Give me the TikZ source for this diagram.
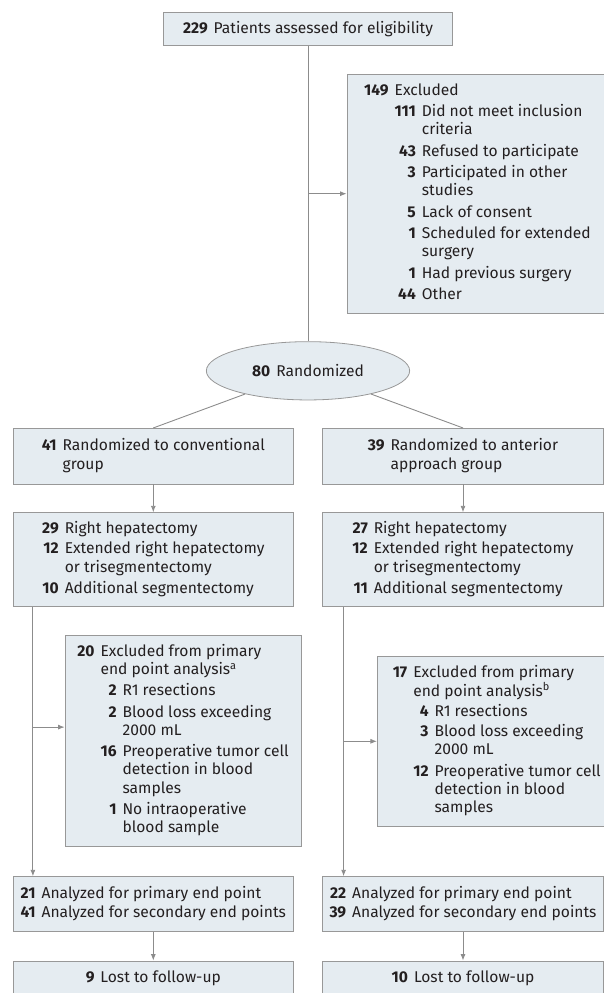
\documentclass[tikz,border=0pt]{standalone}
\usepackage{fontspec}
\setmainfont{Fira Sans}
\usetikzlibrary{shapes.geometric,arrows.meta,calc}
\definecolor{boxfill}{HTML}{E5ECF1}
\definecolor{boxline}{HTML}{989898}
\definecolor{conn}{HTML}{8C8C8C}
\definecolor{txt}{HTML}{231F20}
\newcommand{\nb}[1]{\textbf{#1}}
\newcommand{\gp}{\hspace{6pt}}
\newcommand{\mc}[1]{\multicolumn{2}{@{}l@{}}{#1}}
\begin{document}
\begin{tikzpicture}[x=1pt,y=-1pt,
  font=\fontsize{15.6}{18.3}\selectfont, text=txt,
  box/.style={draw=boxline, fill=boxfill, line width=0.8pt, inner sep=0pt},
  oval/.style={ellipse, draw=boxline, fill=boxfill, line width=0.8pt, inner sep=0pt},
  ln/.style={draw=conn, line width=0.9pt},
  arr/.style={draw=conn, line width=0.9pt, -{Latex[length=6.5pt,width=5pt]}}]
\useasboundingbox (0,0) rectangle (604,993);
\clip (0,0) rectangle (604,993);

\node[box, minimum width=289.4pt, minimum height=33.4pt] (top) at (308,29)
  {\nb{229}\gp Patients assessed for eligibility};

\node[box, minimum width=261pt, minimum height=239.3pt] (excl1) at (477.5,193.7)
  {\begin{tabular}{@{}r@{\gp}r@{\gp}l@{}}
   \nb{149} & \mc{Excluded}\\[3pt]
   & \nb{111} & Did not meet inclusion\\
   & & criteria\\[3pt]
   & \nb{43} & Refused to participate\\[3pt]
   & \nb{3} & Participated in other\\
   & & studies\\[3pt]
   & \nb{5} & Lack of consent\\[3pt]
   & \nb{1} & Scheduled for extended\\
   & & surgery\\[3pt]
   & \nb{1} & Had previous surgery\\[3pt]
   & \nb{44} & Other
  \end{tabular}};

\node[oval, minimum width=203.3pt, minimum height=58.3pt] (rand) at (308,370.8)
  {\nb{80}\gp Randomized};

\node[box, minimum width=280pt, minimum height=55.7pt] (b41) at (153.3,456.2)
  {\begin{tabular}{@{}r@{\gp}l@{}}
   \nb{41} & Randomized to conventional\\
   & group
  \end{tabular}};
\node[box, minimum width=280.6pt, minimum height=55.7pt] (b39) at (463,456.2)
  {\begin{tabular}{@{}r@{\gp}l@{}}
   \nb{39} & Randomized to anterior\\
   & approach group
  \end{tabular}};

\node[box, minimum width=280pt, minimum height=94pt] (b29) at (153.3,559.7)
  {\begin{tabular}{@{}r@{\gp}l@{}}
   \nb{29} & Right hepatectomy\\[2pt]
   \nb{12} & Extended right hepatectomy\\
   & or trisegmentectomy\\[3pt]
   \nb{10} & Additional segmentectomy
  \end{tabular}};
\node[box, minimum width=280.6pt, minimum height=94pt] (b27) at (463,559.7)
  {\begin{tabular}{@{}r@{\gp}l@{}}
   \nb{27} & Right hepatectomy\\[2pt]
   \nb{12} & Extended right hepatectomy\\
   & or trisegmentectomy\\[3pt]
   \nb{11} & Additional segmentectomy
  \end{tabular}};

\node[box, minimum width=236pt, minimum height=211.7pt] (ex20) at (183,740.8)
  {\begin{tabular}{@{}r@{\gp}r@{\gp}l@{}}
   \nb{20} & \mc{Excluded from primary}\\
   & \mc{end point analysis\textsuperscript{a}}\\[3pt]
   & \nb{2} & R1 resections\\[3pt]
   & \nb{2} & Blood loss exceeding\\
   & & 2000 mL\\[3pt]
   & \nb{16} & Preoperative tumor cell\\
   & & detection in blood\\
   & & samples\\[3pt]
   & \nb{1} & No intraoperative\\
   & & blood sample
  \end{tabular}};
\node[box, minimum width=238.7pt, minimum height=170.7pt] (ex17) at (496.7,741.3)
  {\begin{tabular}{@{}r@{\gp}r@{\gp}l@{}}
   \nb{17} & \mc{Excluded from primary}\\
   & \mc{end point analysis\textsuperscript{b}}\\[2pt]
   & \nb{4} & R1 resections\\[2pt]
   & \nb{3} & Blood loss exceeding\\
   & & 2000 mL\\[3pt]
   & \nb{12} & Preoperative tumor cell\\
   & & detection in blood\\
   & & samples
  \end{tabular}};

\node[box, minimum width=280pt, minimum height=55pt] (a21) at (153.3,904.2)
  {\begin{tabular}{@{}r@{\gp}l@{}}
   \nb{21} & Analyzed for primary end point\\
   \nb{41} & Analyzed for secondary end points
  \end{tabular}};
\node[box, minimum width=280.6pt, minimum height=55pt] (a22) at (463,904.2)
  {\begin{tabular}{@{}r@{\gp}l@{}}
   \nb{22} & Analyzed for primary end point\\
   \nb{39} & Analyzed for secondary end points
  \end{tabular}};

\node[box, minimum width=280pt, minimum height=35pt] (l9) at (153.3,978.5)
  {\nb{9}\gp Lost to follow-up};
\node[box, minimum width=280.6pt, minimum height=35pt] (l10) at (463,978.5)
  {\nb{10}\gp Lost to follow-up};

% connectors
\draw[ln] (top.south) -- (rand.north);
\coordinate (j0) at (top.south |- excl1.west);
\draw[arr] (j0) -- (excl1.west);
\draw[ln] (b41.north) -- (rand);
\draw[ln] (b39.north) -- (rand);
\draw[arr] (b41) -- (b29);
\draw[arr] (b39) -- (b27);
\coordinate (s1) at ([xshift=20pt]b29.south west);
\draw[arr] (s1) -- (s1 |- a21.north);
\coordinate (j1) at ($(s1)+(0,120)$);
\draw[arr] (j1) -- (j1 -| ex20.west);
\coordinate (s2) at ([xshift=21.3pt]b27.south west);
\draw[arr] (s2) -- (s2 |- a22.north);
\coordinate (j2) at (s2 |- ex17.west);
\draw[arr] (j2) -- (ex17.west);
\draw[arr] (a21) -- (l9);
\draw[arr] (a22) -- (l10);
\end{tikzpicture}
\end{document}
